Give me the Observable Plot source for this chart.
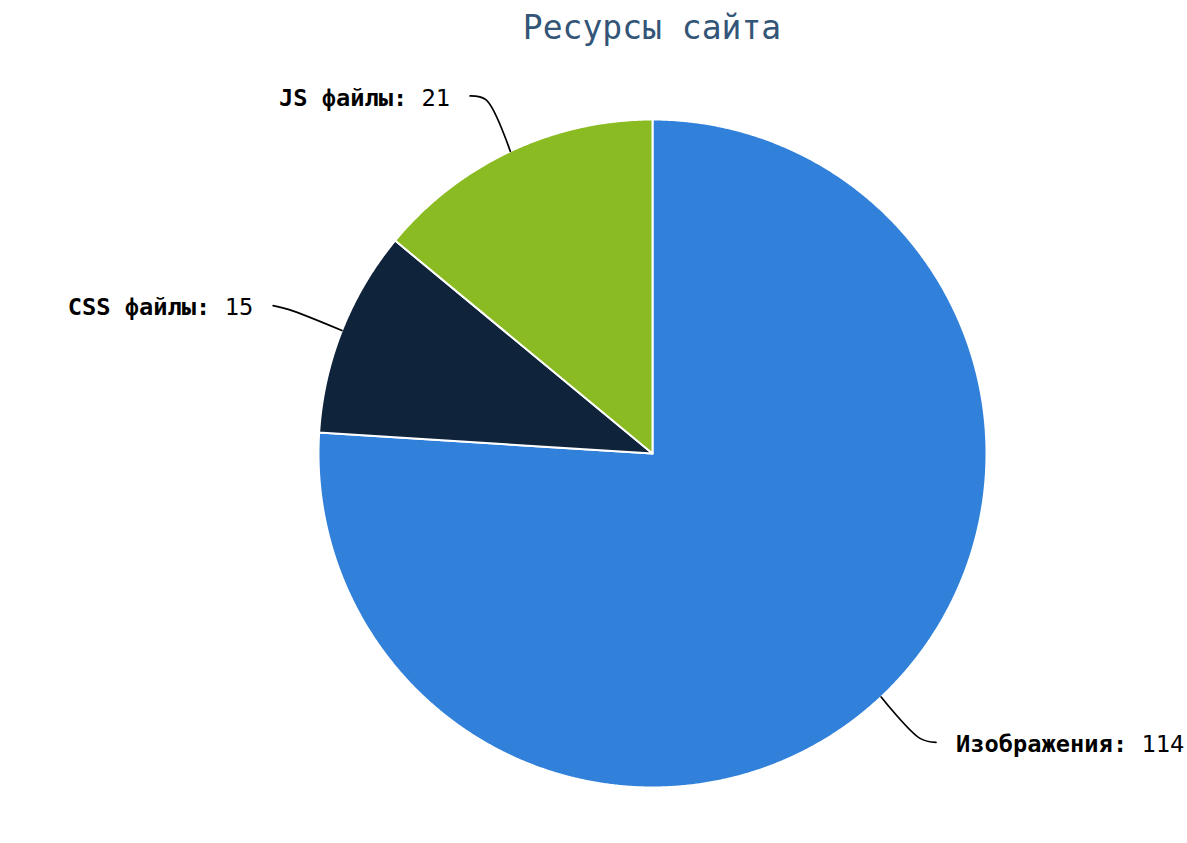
<!DOCTYPE html>
<html>
<head>
<meta charset="utf-8">
<script src="https://cdn.jsdelivr.net/npm/d3@7"></script>
<script src="https://cdn.jsdelivr.net/npm/@observablehq/plot@0.6"></script>
<style>
  html, body { margin: 0; padding: 0; background: #ffffff; }
  #title {
    width: 1187px; height: 56px; box-sizing: border-box;
    padding-left: 117px; text-align: center;
    font-family: "DejaVu Sans Mono", monospace; font-size: 33px;
    line-height: 56px; color: #335577;
  }
</style>
</head>
<body>
<div id="title">Ресурсы сайта</div>
<div id="chart"></div>
<script>
// ---- data ----
const labels = ["Изображения", "CSS файлы", "JS файлы"];
const values = [114, 15, 21];
const colors = ["#3180DA", "#0F233A", "#8BBB22"];

// ---- layout helpers ----
const W = 1187, H = 787;
const R = 334;            // pie radius in pixels (1 data unit)
const CX = 652, CY = 397; // pie centre in pixels
const FONT = 23.7;
const CW = 0.602 * FONT;  // monospace advance

const arcs = d3.pie().sort(null).value((d, i) => values[i])(labels);

// slice outlines from pie angles (clockwise from 12 o'clock)
const slicePts = arcs.flatMap((a) => {
  const pts = [{name: a.data, x: 0, y: 0}];
  const n = Math.ceil((a.endAngle - a.startAngle) / (Math.PI / 720));
  for (let k = 0; k <= n; k++) {
    const ang = a.startAngle + (a.endAngle - a.startAngle) * k / n;
    pts.push({name: a.data, x: Math.sin(ang), y: Math.cos(ang)});
  }
  pts.push({name: a.data, x: 0, y: 0});
  return pts;
});

// leader lines and label anchors
const leaderPts = [];
const labelData = [];
arcs.forEach((a, i) => {
  const mid = (a.startAngle + a.endAngle) / 2;
  const s = Math.sin(mid), c = Math.cos(mid);
  const side = s >= 0 ? 1 : -1;
  const p0 = {x: s * 1.0, y: c * 1.0};
  const p1 = {x: s * 1.17, y: c * 1.17};
  const p2 = {x: p1.x + side * 16 / R, y: p1.y + Math.sign(c) * 4 / R};
  [p0, p1, p2].forEach(p => leaderPts.push({name: a.data, ...p}));
  const x0 = p2.x + side * 20 / R;
  const nameText = a.data + ":";
  const valueText = String(values[i]);
  labelData.push({
    side, y: p2.y, nameText, valueText,
    xName: side > 0 ? x0 : x0 - (valueText.length + 1) * CW / R,
    xValue: side > 0 ? x0 + (nameText.length + 1) * CW / R : x0
  });
});

const right = labelData.filter(d => d.side > 0);
const left = labelData.filter(d => d.side < 0);
const textOpts = {y: "y", fontSize: FONT, fill: "#000", lineAnchor: "middle", dy: 2};

const chart = Plot.plot({
  width: W,
  height: H,
  margin: 0,
  x: {domain: [-CX / R, (W - CX) / R], axis: null},
  y: {domain: [-(H - CY) / R, CY / R], axis: null},
  color: {domain: labels, range: colors},
  style: {fontFamily: "DejaVu Sans Mono, monospace", background: "#ffffff"},
  marks: [
    Plot.line(slicePts, {x: "x", y: "y", z: "name", fill: "name", stroke: "#ffffff", strokeWidth: 2, strokeLinejoin: "round"}),
    Plot.line(leaderPts, {x: "x", y: "y", z: "name", stroke: "#000", strokeWidth: 1.7, curve: "catmull-rom"}),
    Plot.text(right, {...textOpts, x: "xName", text: "nameText", textAnchor: "start", fontWeight: "bold"}),
    Plot.text(right, {...textOpts, x: "xValue", text: "valueText", textAnchor: "start"}),
    Plot.text(left, {...textOpts, x: "xName", text: "nameText", textAnchor: "end", fontWeight: "bold"}),
    Plot.text(left, {...textOpts, x: "xValue", text: "valueText", textAnchor: "end"})
  ]
});
document.getElementById("chart").appendChild(chart);
</script>
</body>
</html>
